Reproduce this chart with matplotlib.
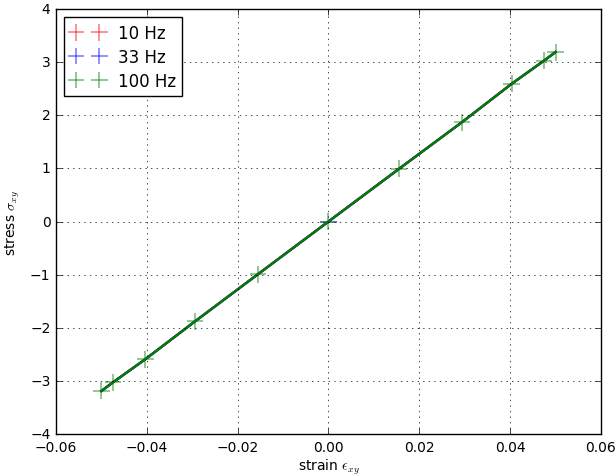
import numpy as np
import matplotlib
matplotlib.use('Agg')
import matplotlib.pyplot as plt

plt.style.use('classic')
plt.rcParams['font.size'] = 10

# strain / stress samples (same for all frequencies, curves overlap)
strain = [-0.05, -0.0475, -0.0403, -0.0294, -0.0155, 0.0, 0.0155, 0.0294, 0.0403, 0.0475, 0.05]
stress = [-3.19, -3.03, -2.59, -1.88, -0.99, 0.0, 0.99, 1.87, 2.59, 3.03, 3.19]

labels = ['10 Hz', '33 Hz', '100 Hz']
colors = ['r', 'b', 'g']
# per-point error bars (only visible for 100 Hz, plus one for 33 Hz at zero)
xerr_10 = [0] * 11
yerr_10 = [0] * 11
xerr_33 = [0, 0, 0, 0, 0, 0.0018, 0, 0, 0, 0, 0]
yerr_33 = [0] * 11
xerr_100 = [0.0018] * 11
yerr_100 = [0.16] * 11
xerrs = [xerr_10, xerr_33, xerr_100]
yerrs = [yerr_10, yerr_33, yerr_100]

fig = plt.figure(figsize=(6.16, 4.77), dpi=100)
ax = fig.add_axes([0.0909, 0.088, 0.8847, 0.891])

for lab, c, xe, ye in zip(labels, colors, xerrs, yerrs):
    ax.errorbar(strain, stress, xerr=xe, yerr=ye, fmt='none', ecolor=c,
                alpha=0.5, elinewidth=1.2, capsize=0, label=lab, zorder=1.5)
    ax.plot(strain, stress, color=c, lw=1.7, zorder=2)

ax.set_xlim(-0.06, 0.06)
ax.set_ylim(-4, 4)
ax.grid(True)
ax.set_xlabel(r'strain $\epsilon_{xy}$', labelpad=2)
ax.set_ylabel(r'stress $\sigma_{xy}$', labelpad=6)
ax.legend(loc='upper left', fontsize=12, labelspacing=0.35)

fig.savefig('out.png', dpi=100)
